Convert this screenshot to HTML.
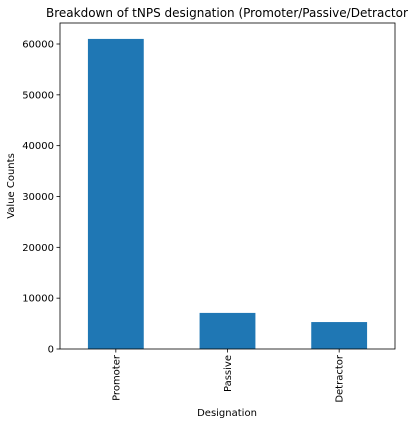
<!DOCTYPE html>
<html><head><meta charset="utf-8"><style>
html,body{margin:0;padding:0;background:#fff;}
svg{display:block;font-family:"DejaVu Sans","Liberation Sans",sans-serif;}
</style></head><body>
<svg id="chart" width="416" height="425" viewBox="0 0 416 425" xmlns="http://www.w3.org/2000/svg">
<text x="46" y="17" font-size="12" fill="#000">Breakdown of tNPS designation (Promoter/Passive/Detractor</text>
<g id="plot"></g>
<text transform="translate(14,186) rotate(-90)" text-anchor="middle" font-size="10" fill="#000">Value Counts</text>
<text x="227" y="416" text-anchor="middle" font-size="10" fill="#000">Designation</text>
</svg>
<script>
const categories = ["Promoter", "Passive", "Detractor"];
const values = [61000, 7100, 5300];
const yTicks = [0, 10000, 20000, 30000, 40000, 50000, 60000];
const yTickLabels = ["0", "10000", "20000", "30000", "40000", "50000", "60000"];

const L = 60, R = 395, T = 23, B = 349;
const pxPer = (B - 44) / 60000;
const y = v => B - v * pxPer;
const band = (R - L) / categories.length;
const x = i => L + band * (i + 0.5);
const NS = "http://www.w3.org/2000/svg";
const g = document.getElementById("plot");
function mk(tag, attrs) {
  const e = document.createElementNS(NS, tag);
  for (const k in attrs) e.setAttribute(k, attrs[k]);
  g.appendChild(e);
  return e;
}
values.forEach((v, i) => {
  const r = mk("rect", {x: x(i) - band / 4, y: y(v), width: band / 2, height: B - y(v), fill: "#1f77b4"});
  
  
  const t = mk("line", {x1: x(i), x2: x(i), y1: B, y2: B + 3.5, stroke: "#000", "stroke-width": 0.8});
  
  
  const lb = mk("text", {transform: `translate(${x(i) + 3.5},${B + 6}) rotate(-90)`, "text-anchor": "end", "font-size": 10, fill: "#000"});
  lb.textContent = categories[i];
  
  
});
yTicks.forEach((v, i) => {
  const t = mk("line", {x1: L - 3.5, x2: L, y1: y(v), y2: y(v), stroke: "#000", "stroke-width": 0.8});
  
  
  const lb = mk("text", {x: L - 6, y: y(v) + 3.5, "text-anchor": "end", "font-size": 10, fill: "#000"});
  lb.textContent = yTickLabels[i];
  
  
});
const frame = mk("rect", {x: L, y: T, width: R - L, height: B - T, fill: "none", stroke: "#000", "stroke-width": 0.8});


</script>
</body></html>
